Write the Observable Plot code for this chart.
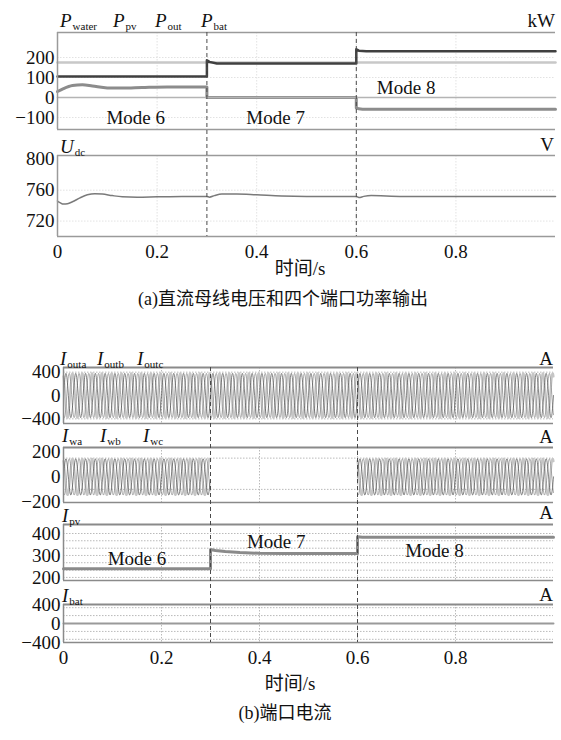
<!DOCTYPE html>
<html>
<head>
<meta charset="utf-8">
<title>直流母线电压、端口功率与端口电流</title>
<script src="https://cdn.jsdelivr.net/npm/d3@7"></script>
<script src="https://cdn.jsdelivr.net/npm/@observablehq/plot@0.6"></script>
<style>
  html, body { margin: 0; padding: 0; background: #fff; }
  #fig { position: relative; width: 561px; height: 740px; overflow: hidden;
         font-family: "Liberation Serif", serif; color: #111; }
  #fig svg { position: absolute; left: 0; overflow: visible; }
  #fig svg text { font-family: "Liberation Serif", serif !important; }
  .lab { position: absolute; white-space: nowrap; line-height: 1; font-size: 19px; font-family: "Liberation Serif", serif; }
  .lab i { font-style: italic; }
  .lab sub { font-size: 11px; vertical-align: -3px; margin-left: 1px; font-style: normal; }
  .cjk { font-family: "Liberation Serif", "Noto Sans CJK SC", serif; }
</style>
</head>
<body>
<div id="fig"></div>
<script>
const FONT = '"Liberation Serif",serif';
const W = 561;

// ---- time axis (s) ----
const modeSwitch = [0.3, 0.6];
const modeEdges = [0, 0.3, 0.6];
const timeTicks = [0, 0.2, 0.4, 0.6, 0.8];
const timeGrid = [0.2, 0.4, 0.6, 0.8];
const modeNames = ["Mode 6", "Mode 7", "Mode 8"];

// ---- (a) port powers, kW ----
const pPvT = [0, 0.3, 0.3, 0.305, 0.32, 0.6, 0.6, 0.605, 0.62, 1.0];
const pPvV = [105, 105, 186, 178, 170, 170, 241, 234, 231, 231];
const pWaterT = [0, 0.01, 0.03, 0.05, 0.07, 0.1, 0.13, 0.17, 0.22, 0.3, 0.3, 0.6, 0.6, 0.605, 0.62, 1.0];
const pWaterV = [30, 42, 60, 64, 58, 48, 47, 50, 53, 53, 0, 0, -52, -56, -59, -59];
const pOutT = [0, 1.0];
const pOutV = [175, 175];
const pBatT = [0, 1.0];
const pBatV = [0, 0];
const powerTicks = [-100, 0, 100, 200];

// ---- (a) DC bus voltage, V ----
const udcT = [0, 0.005, 0.012, 0.02, 0.03, 0.045, 0.06, 0.075, 0.09, 0.11, 0.13, 0.16, 0.2, 0.25, 0.3,
              0.305, 0.315, 0.33, 0.36, 0.4, 0.45, 0.5, 0.6, 0.605, 0.615, 0.63, 0.66, 0.7, 0.8, 0.9, 1.0];
const udcV = [746, 744, 742, 742.5, 745, 750, 754, 755.5, 755, 753, 751.5, 751, 751.5, 752, 752,
              751, 753, 755, 755, 754, 752.5, 752, 752, 750.5, 752, 753, 752.5, 752, 752, 752, 752];
const udcTicks = [720, 760, 800];

// ---- (b) port currents, A ----
const gridFreq = 50;                 // Hz
const phaseAngles = [0, -120, 120];  // deg, phases a, b, c
const iOutAmp = [380, 380, 380];     // per mode
const iWAmp = [145, null, 145];      // turbine port idle in mode 7
const iOutTicks = [-400, 0, 400];
const iWTicks = [-200, 0, 200];
const iWGrid = [-100, 150];
const ipvT = [0, 0.3, 0.3, 0.31, 0.33, 0.36, 0.4, 0.45, 0.6, 0.6, 0.61, 1.0];
const ipvV = [240, 240, 327, 323, 318, 313, 310, 309, 309, 385, 383, 383];
const ipvTicks = [200, 300, 400];
const ipvGrid = [200, 233, 267, 300, 333, 367, 400];
const ibatT = [0, 1.0];
const ibatV = [0, 0];
const ibatTicks = [-400, 0, 400];
const ibatGrid = [-333, -167, 167, 333];

const fig = document.getElementById("fig");
const zip = (T, V) => T.map((t, i) => ({t, v: V[i]}));
const fmtTick = d => (d < 0 ? "\u2212" : "") + String(Math.abs(d));

// three-phase sinusoidal currents at grid frequency, amplitude per operating mode
function threePhase(amps, tEnd) {
  const dt = 0.0005, rows = [];
  const n = Math.round(tEnd / dt);
  for (let k = 0; k <= n; k++) {
    const t = k * dt;
    const m = t < modeEdges[1] ? 0 : t < modeEdges[2] ? 1 : 2;
    phaseAngles.forEach((deg, p) => {
      const a = amps[m];
      rows.push({t, p, v: a == null ? NaN : a * Math.sin(2 * Math.PI * gridFreq * t + deg * Math.PI / 180)});
    });
  }
  return rows;
}
const phaseStyle = [
  {stroke: "#444444", strokeWidth: 0.65},
  {stroke: "#808080", strokeWidth: 0.65},
  {stroke: "#c6c6c6", strokeWidth: 2.2}
];
function phaseLines(rows) {
  return [2, 1, 0].map(p => Plot.line(rows.filter(d => d.p === p), {x: "t", y: "v", ...phaseStyle[p]}));
}

function panel(c) {
  const mt = 2, mb = c.xAxis ? 36 : 2;
  const [y0, y1] = c.yDomain;
  const svg = Plot.plot({
    width: W, height: mt + c.h + mb,
    marginTop: mt, marginBottom: mb, marginLeft: c.left, marginRight: W - c.right,
    x: {domain: c.xDomain, axis: null},
    y: {domain: c.yDomain, axis: null},
    style: {fontFamily: FONT, background: "transparent", color: "#111", overflow: "visible"},
    marks: [
      Plot.ruleX(timeGrid, {stroke: c.grid, strokeWidth: 0.8, strokeDasharray: "1.5,1.5"}),
      Plot.ruleY(c.yGrid, {stroke: c.grid, strokeWidth: 0.8, strokeDasharray: "1.5,1.5"}),
      ...c.marks,
      Plot.ruleY([y1], {stroke: c.frame, strokeWidth: c.topWidth}),
      Plot.ruleY([y0], {stroke: c.frame, strokeWidth: 1.5}),
      Plot.ruleX([c.xDomain[0]], {stroke: c.frame, strokeWidth: 1.5}),
      Plot.axisY(c.yTicks, {tickSize: 0, tickPadding: 3, fontSize: 19, fontFamily: FONT, label: null, tickFormat: fmtTick}),
      c.xAxis ? Plot.axisX(timeTicks, {tickSize: 0, tickPadding: 8, fontSize: 19, fontFamily: FONT, label: null, tickFormat: d => String(d)}) : null
    ].filter(Boolean)
  });
  svg.style.top = (c.top - mt) + "px";
  fig.appendChild(svg);
}

function switchLines(top, h, left, right, xDomain) {
  const svg = Plot.plot({
    width: W, height: h, marginTop: 0, marginBottom: 0, marginLeft: left, marginRight: W - right,
    x: {domain: xDomain, axis: null},
    style: {background: "transparent", overflow: "visible"},
    marks: [Plot.ruleX(modeSwitch, {stroke: "#4a4a4a", strokeWidth: 1, strokeDasharray: "4,3"})]
  });
  svg.style.top = top + "px";
  fig.appendChild(svg);
}

function lab(html, x, base, align = "left", size = 19, cls = "") {
  const d = document.createElement("div");
  d.className = "lab " + cls;
  d.style.fontSize = size + "px";
  d.innerHTML = html;
  d.style.top = (base - 0.84 * size) + "px";
  if (align === "right") d.style.right = (W - x) + "px";
  else if (align === "center") { d.style.left = x + "px"; d.style.transform = "translateX(-50%)"; }
  else d.style.left = x + "px";
  fig.appendChild(d);
}
const sym = (s, sub) => `<i>${s}</i><sub>${sub}</sub>`;
const modeText = {fontSize: 19, fontFamily: FONT, fill: "#111"};

// ================= (a) =================
const xa = [0, 1.0], aL = 57, aR = 555;
const gridA = "#dadada", frameA = "#9a9a9a";
const modeLabA = [{t: 0.157, v: -100}, {t: 0.438, v: -100}, {t: 0.70, v: 50}].map((d, i) => ({...d, label: modeNames[i]}));

panel({
  top: 32, h: 97, left: aL, right: aR, xDomain: xa, yDomain: [-160, 325],
  yTicks: powerTicks, yGrid: [-100, 100, 200], grid: gridA, frame: frameA, topWidth: 1.5,
  marks: [
    Plot.line(zip(pOutT, pOutV), {x: "t", y: "v", stroke: "#c8c8c8", strokeWidth: 2.5}),
    Plot.line(zip(pWaterT, pWaterV), {x: "t", y: "v", stroke: "#8c8c8c", strokeWidth: 3, curve: "monotone-x"}),
    Plot.line(zip(pBatT, pBatV), {x: "t", y: "v", stroke: "#b4b4b4", strokeWidth: 1.6}),
    Plot.line(zip(pPvT, pPvV), {x: "t", y: "v", stroke: "#404040", strokeWidth: 2.5}),
    Plot.text(modeLabA, {x: "t", y: "v", text: "label", ...modeText})
  ]
});
panel({
  top: 155, h: 81, left: aL, right: aR, xDomain: xa, yDomain: [700, 805], xAxis: true,
  yTicks: udcTicks, yGrid: [720, 760], grid: gridA, frame: frameA, topWidth: 1.5,
  marks: [
    Plot.line(zip(udcT, udcV), {x: "t", y: "v", stroke: "#7a7a7a", strokeWidth: 1.5, curve: "monotone-x"})
  ]
});
switchLines(32, 204, aL, aR, xa);

lab(sym("P", "water"), 60, 27);
lab(sym("P", "pv"), 113, 27);
lab(sym("P", "out"), 155, 27);
lab(sym("P", "bat"), 201, 27);
lab("kW", 555, 27, "right");
lab(sym("U", "dc"), 60, 153);
lab("V", 554, 151, "right");
lab("时间/s", 300, 275, "center", 19, "cjk");
lab("(a)直流母线电压和四个端口功率输出", 283, 305, "center", 18, "cjk");

// ================= (b) =================
const xb = [0, 1.0], bL = 63, bR = 553;
const gridB = "#a8a8a8", frameB = "#8a8a8a";
const modeLabB = [{t: 0.15, v: 286}, {t: 0.434, v: 364}, {t: 0.757, v: 323}].map((d, i) => ({...d, label: modeNames[i]}));

panel({
  top: 367, h: 56, left: bL, right: bR, xDomain: xb, yDomain: [-480, 480],
  yTicks: iOutTicks, yGrid: [-400, 400], grid: gridB, frame: frameB, topWidth: 2,
  marks: phaseLines(threePhase(iOutAmp, xb[1]))
});
panel({
  top: 447, h: 55, left: bL, right: bR, xDomain: xb, yDomain: [-205, 235],
  yTicks: iWTicks, yGrid: iWGrid, grid: gridB, frame: frameB, topWidth: 2,
  marks: phaseLines(threePhase(iWAmp, xb[1]))
});
panel({
  top: 524, h: 56, left: bL, right: bR, xDomain: xb, yDomain: [186, 441],
  yTicks: ipvTicks, yGrid: ipvGrid, grid: gridB, frame: frameB, topWidth: 2,
  marks: [
    Plot.line(zip(ipvT, ipvV), {x: "t", y: "v", stroke: "#8a8a8a", strokeWidth: 3}),
    Plot.text(modeLabB, {x: "t", y: "v", text: "label", ...modeText})
  ]
});
panel({
  top: 604, h: 38, left: bL, right: bR, xDomain: xb, yDomain: [-400, 400], xAxis: true,
  yTicks: ibatTicks, yGrid: ibatGrid, grid: gridB, frame: frameB, topWidth: 2,
  marks: [
    Plot.line(zip(ibatT, ibatV), {x: "t", y: "v", stroke: "#9a9a9a", strokeWidth: 2})
  ]
});
switchLines(367, 275, bL, bR, xb);

lab(sym("I", "outa"), 60, 365);
lab(sym("I", "outb"), 97, 365);
lab(sym("I", "outc"), 137, 365);
lab("A", 553, 365, "right");
lab(sym("I", "wa"), 62, 442);
lab(sym("I", "wb"), 100, 442);
lab(sym("I", "wc"), 143, 442);
lab("A", 553, 443, "right");
lab(sym("I", "pv"), 62, 522);
lab("A", 553, 519, "right");
lab(sym("I", "bat"), 62, 602);
lab("A", 553, 601, "right");
lab("时间/s", 290, 690, "center", 19, "cjk");
lab("(b)端口电流", 285, 719, "center", 18, "cjk");
</script>
</body>
</html>
